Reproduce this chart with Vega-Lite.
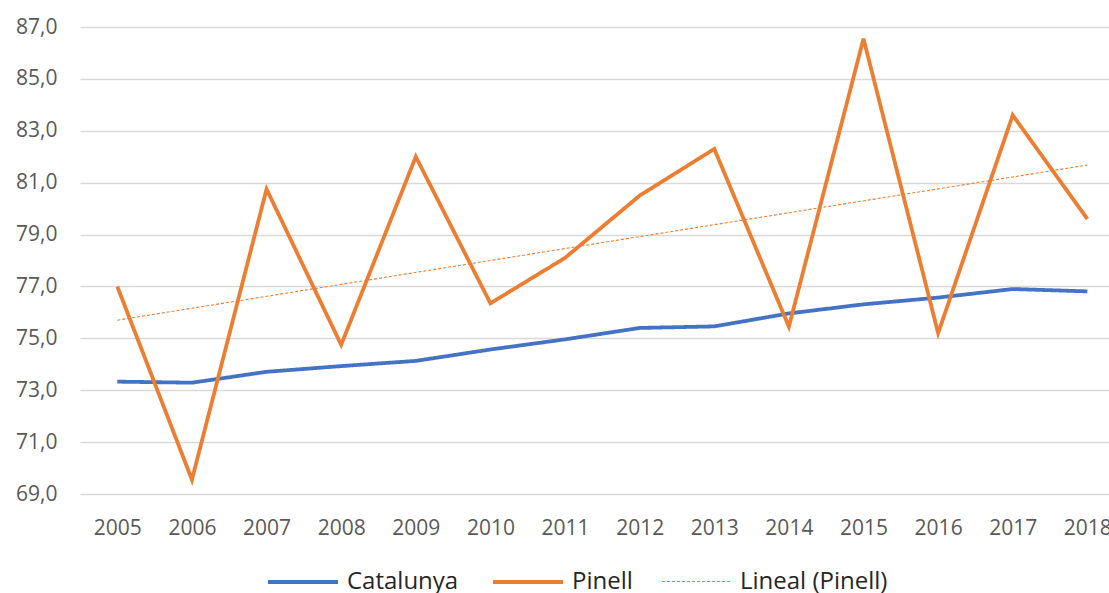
{
  "$schema": "https://vega.github.io/schema/vega-lite/v6.json",
  "width": 1029,
  "height": 467,
  "autosize": {"type": "none"},
  "padding": {"left": 80, "top": 27, "right": 0, "bottom": 99},
  "background": "white",
  "config": {
    "font": "Open Sans",
    "view": {"stroke": null},
    "locale": {"number": {"decimal": ",", "thousands": ".", "grouping": [3], "currency": ["", " €"]}}
  },
  "data": {
    "values": [
      {"year": 2005, "series": "Catalunya", "value": 73.33},
      {"year": 2006, "series": "Catalunya", "value": 73.29},
      {"year": 2007, "series": "Catalunya", "value": 73.71},
      {"year": 2008, "series": "Catalunya", "value": 73.93},
      {"year": 2009, "series": "Catalunya", "value": 74.13},
      {"year": 2010, "series": "Catalunya", "value": 74.57},
      {"year": 2011, "series": "Catalunya", "value": 74.96},
      {"year": 2012, "series": "Catalunya", "value": 75.40},
      {"year": 2013, "series": "Catalunya", "value": 75.46},
      {"year": 2014, "series": "Catalunya", "value": 75.96},
      {"year": 2015, "series": "Catalunya", "value": 76.31},
      {"year": 2016, "series": "Catalunya", "value": 76.57},
      {"year": 2017, "series": "Catalunya", "value": 76.90},
      {"year": 2018, "series": "Catalunya", "value": 76.81},
      {"year": 2005, "series": "Pinell", "value": 77.0},
      {"year": 2006, "series": "Pinell", "value": 69.55},
      {"year": 2007, "series": "Pinell", "value": 80.75},
      {"year": 2008, "series": "Pinell", "value": 74.75},
      {"year": 2009, "series": "Pinell", "value": 82.0},
      {"year": 2010, "series": "Pinell", "value": 76.35},
      {"year": 2011, "series": "Pinell", "value": 78.1},
      {"year": 2012, "series": "Pinell", "value": 80.5},
      {"year": 2013, "series": "Pinell", "value": 82.3},
      {"year": 2014, "series": "Pinell", "value": 75.45},
      {"year": 2015, "series": "Pinell", "value": 86.55},
      {"year": 2016, "series": "Pinell", "value": 75.2},
      {"year": 2017, "series": "Pinell", "value": 83.6},
      {"year": 2018, "series": "Pinell", "value": 79.6},
      {"year": 2005, "series": "Lineal (Pinell)", "value": 75.70},
      {"year": 2018, "series": "Lineal (Pinell)", "value": 81.68}
    ]
  },
  "mark": {"type": "line", "strokeCap": "butt", "strokeJoin": "miter"},
  "encoding": {
    "x": {
      "field": "year",
      "type": "quantitative",
      "scale": {"domain": [2004.5, 2018.29], "nice": false, "zero": false},
      "axis": {
        "title": null,
        "values": [2005, 2006, 2007, 2008, 2009, 2010, 2011, 2012, 2013, 2014, 2015, 2016, 2017, 2018],
        "format": "d",
        "grid": false,
        "domain": false,
        "ticks": false,
        "labelFontSize": 21,
        "labelColor": "#595959",
        "labelPadding": 23,
        "labelFlush": false,
        "labelBound": false,
        "labelOverlap": false
      }
    },
    "y": {
      "field": "value",
      "type": "quantitative",
      "scale": {"domain": [69, 87], "nice": false, "zero": false},
      "axis": {
        "title": null,
        "values": [69, 71, 73, 75, 77, 79, 81, 83, 85, 87],
        "format": ".1f",
        "grid": true,
        "gridColor": "#D9D9D9",
        "gridWidth": 1.3,
        "domain": false,
        "ticks": false,
        "labelFontSize": 21,
        "labelColor": "#595959",
        "labelPadding": 23
      }
    },
    "color": {
      "field": "series",
      "type": "nominal",
      "sort": null,
      "scale": {"domain": ["Catalunya", "Pinell", "Lineal (Pinell)"], "range": ["#4472C4", "#ED7D31", "#ED7D31"]},
      "legend": {
        "title": null,
        "orient": "none",
        "direction": "horizontal",
        "legendX": 186,
        "legendY": 518,
        "symbolType": "stroke",
        "symbolSize": 4900,
        "labelFontSize": 24,
        "labelColor": "#262626",
        "labelOffset": 7,
        "columnPadding": 26,
        "padding": 0
      }
    },
    "strokeDash": {
      "field": "series",
      "type": "nominal",
      "sort": null,
      "scale": {"domain": ["Catalunya", "Pinell", "Lineal (Pinell)"], "range": [[1, 0], [1, 0], [3, 2]]}
    },
    "strokeWidth": {
      "field": "series",
      "type": "nominal",
      "sort": null,
      "scale": {"type": "ordinal", "domain": ["Catalunya", "Pinell", "Lineal (Pinell)"], "range": [3.8, 3.8, 1.1]}
    }
  }
}
